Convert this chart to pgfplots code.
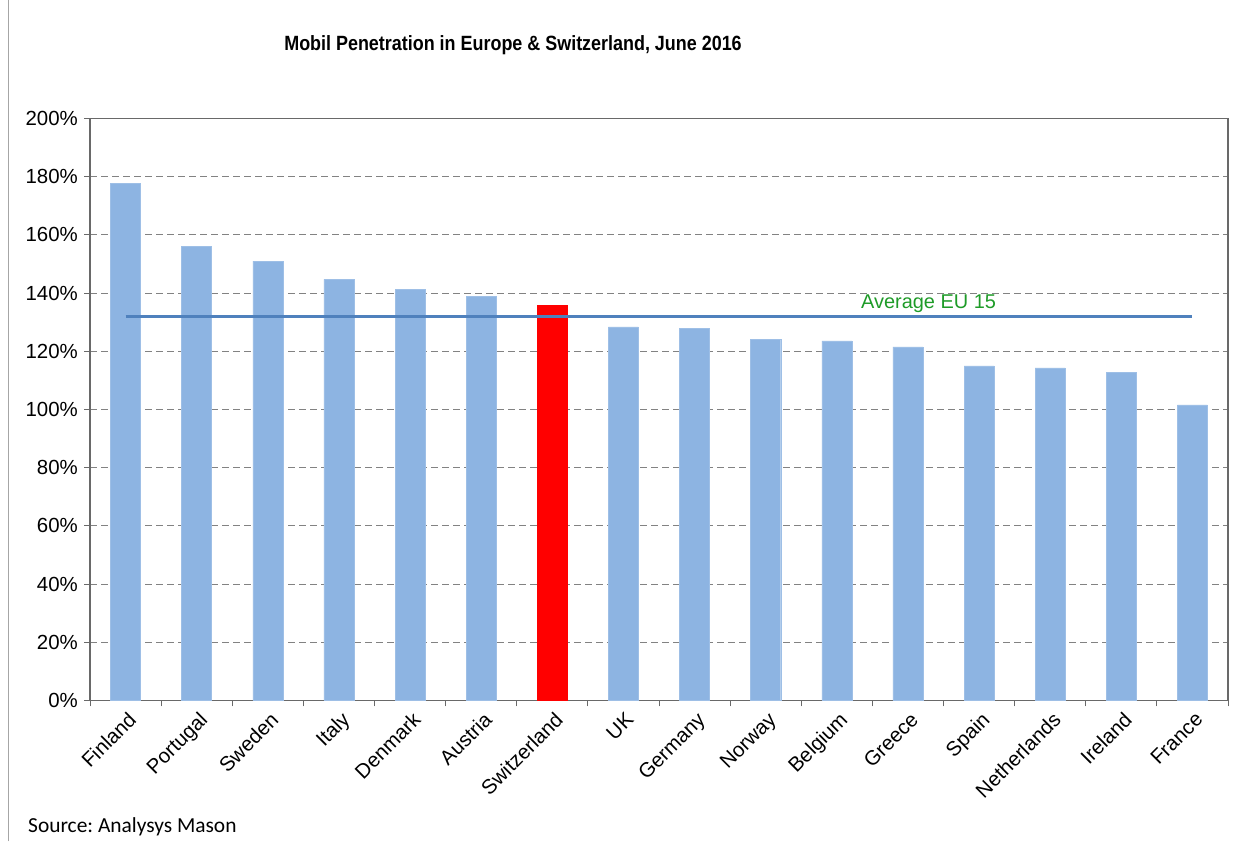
\documentclass[border=0pt]{standalone}
\usepackage{fontspec}
\setmainfont{Liberation Sans}
\newfontfamily\carlito{Carlito}
\usepackage{graphicx}
\usepackage{pgfplots}
\pgfplotsset{compat=1.18}
\frenchspacing
\definecolor{barblue}{RGB}{141,180,226}
\definecolor{avgblue}{RGB}{79,129,189}
\definecolor{avggreen}{RGB}{30,155,40}
\definecolor{axgray}{RGB}{105,105,105}
\definecolor{gridgray}{RGB}{130,130,130}
\begin{document}
\frenchspacing
\begin{tikzpicture}[x=1bp,y=1bp]
\path (0,0) rectangle (1243,841);
\draw[gray!70, line width=1bp] (8,0) -- (8,841);
\node[font=\fontsize{18}{21}\selectfont\bfseries] at (513,796) {\scalebox{1}[1.15]{Mobil Penetration in Europe \& Switzerland, June 2016}};
\node[font=\carlito\fontsize{21.5}{24}\selectfont, anchor=base west, inner sep=0pt] at (28,9) {Source: Analysys Mason};
\begin{axis}[
  at={(90bp,141bp)}, anchor=south west,
  scale only axis, width=1138bp, height=582bp,
  xmin=-0.5, xmax=15.5, ymin=0, ymax=200,
  axis line style={axgray, line width=1.2bp},
  ytick={0,20,...,200},
  yticklabels={0\%,20\%,40\%,60\%,80\%,100\%,120\%,140\%,160\%,180\%,200\%},
  xtick={0,...,15},
  xticklabels={Finland,Portugal,Sweden,Italy,Denmark,Austria,Switzerland,UK,Germany,Norway,Belgium,Greece,Spain,Netherlands,Ireland,France},
  minor xtick={-0.5,0.5,...,15.5},
  major x tick style={draw=none},
  minor x tick style={axgray, line width=1bp},
  y tick style={axgray, line width=1bp},
  tick align=outside, major tick length=6bp, minor tick length=6bp,
  ytick pos=left, xtick pos=bottom,
  ymajorgrids, grid style={gridgray, dash pattern=on 7bp off 4bp, line width=1.1bp},
  ticklabel style={font=\fontsize{20.5}{22}\selectfont},
  xticklabel style={rotate=45, anchor=north east, inner sep=2bp, yshift=-2bp},
  yticklabel style={inner sep=2bp, xshift=-4bp},
  /pgf/number format/assume math mode=true,
  clip=false,
]
\addplot[ybar, bar width=30bp, bar shift=0pt, fill=barblue, draw=barblue!85!white] table[x=i, y=v] {
i v
0 177.7
1 156.0
2 151.0
3 144.7
4 141.2
5 138.9
7 128.4
8 128.0
9 124.0
10 123.6
11 121.5
12 115.0
13 114.3
14 112.7
15 101.6
};
\addplot[ybar, bar width=30bp, bar shift=0pt, fill=red, draw=red] table[x=i, y=v] {
i v
6 136.0
};
\addplot[avgblue, line width=3bp, no marks] coordinates {(0,132) (15,132)};
\node[text=avggreen, font=\fontsize{20}{22}\selectfont] at (axis cs:11.29,136.5) {Average EU 15};
\end{axis}
\end{tikzpicture}
\end{document}
